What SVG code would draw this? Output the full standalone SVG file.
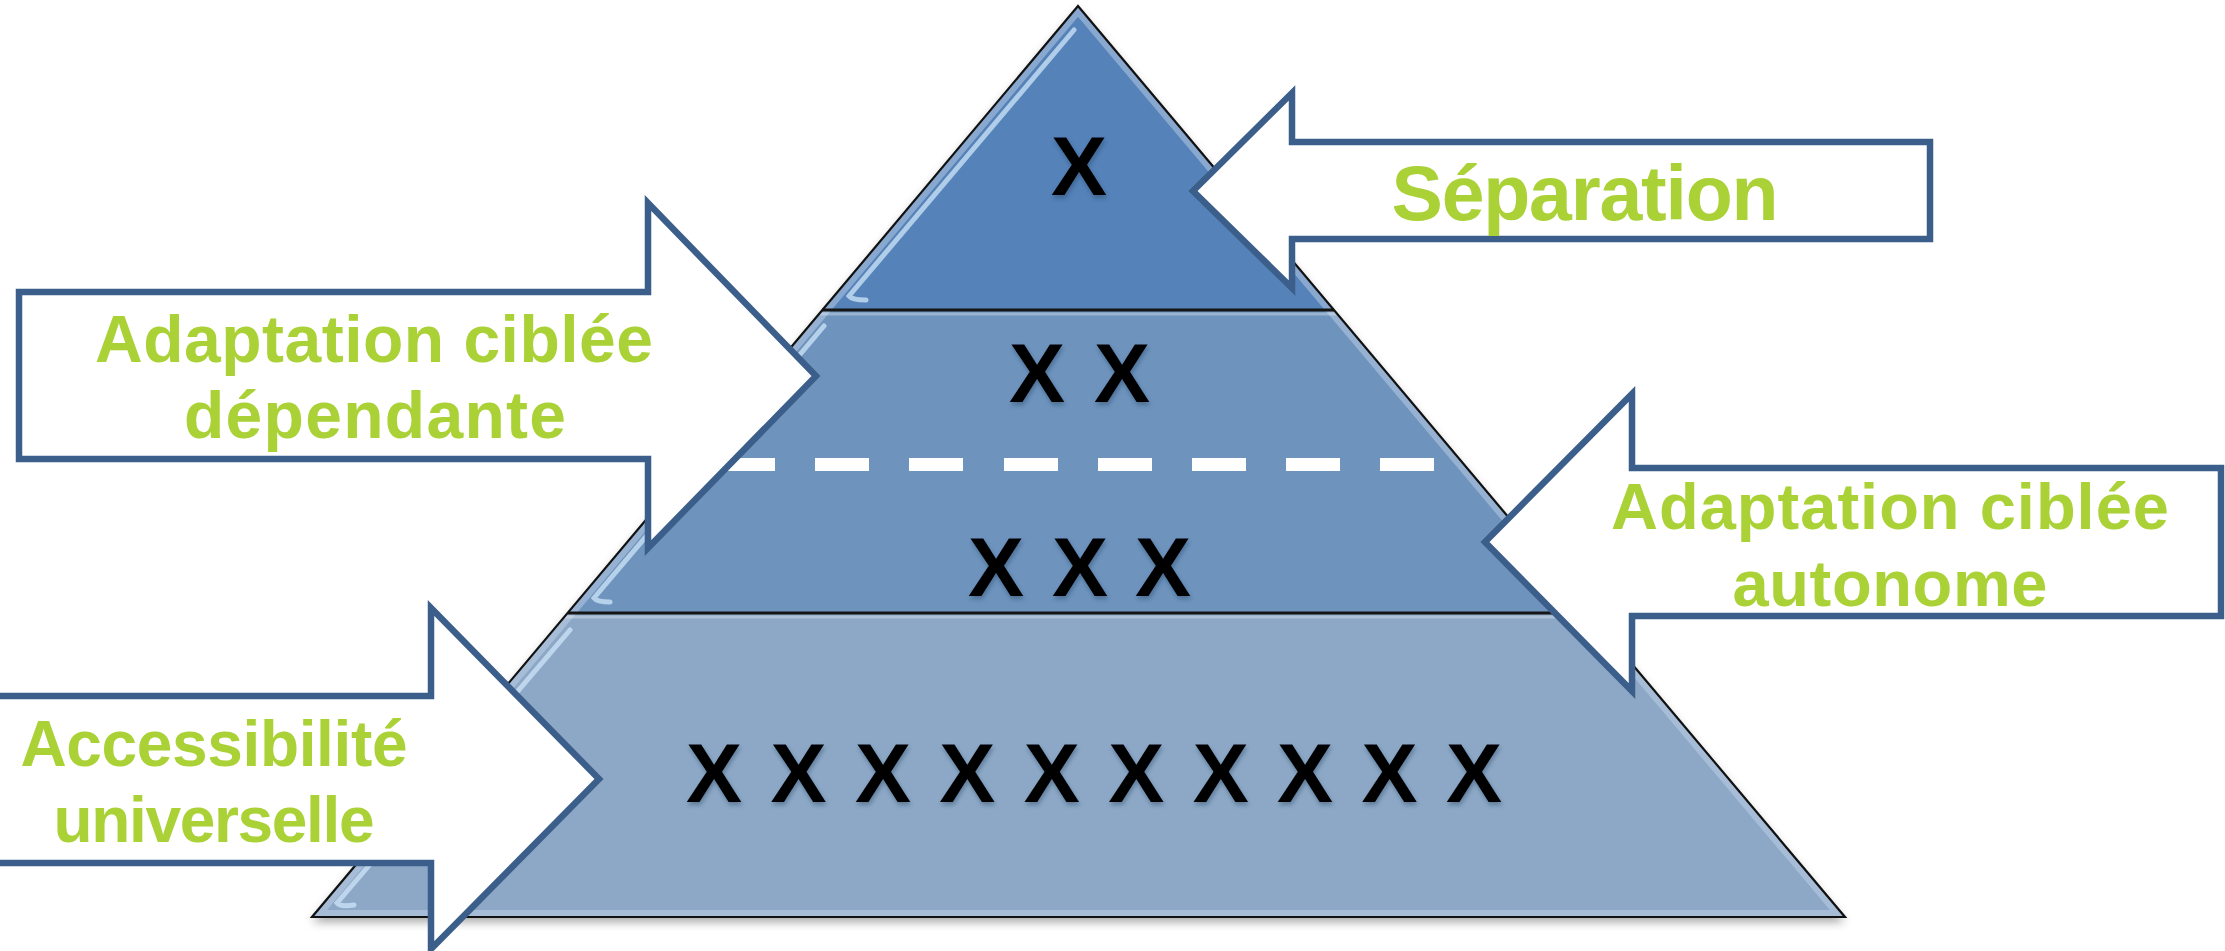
<svg xmlns="http://www.w3.org/2000/svg" width="2225" height="951" viewBox="0 0 2225 951">
<style>
.x{font-family:"Liberation Sans",Arial,sans-serif;font-weight:bold;font-size:84px;fill:#000;text-anchor:middle}
.lbl{font-family:"Liberation Sans",Arial,sans-serif;font-weight:bold;fill:#AAD136;text-anchor:middle}
.arrow{fill:#fff;stroke:#3B5F8A;stroke-width:6.5;stroke-linejoin:miter}
.tierline{stroke:#151515;stroke-width:3}
.tierhi{stroke:#fff;stroke-opacity:.3;stroke-width:3}
.streak{fill:none;stroke:#CFE6FA;stroke-width:5;stroke-opacity:.75;stroke-linecap:round}
.dash{fill:#fff}
</style>
<defs>
<clipPath id="tri"><polygon points="1078,6 1845,917 312,917"/></clipPath>
<filter id="pshadow" x="-5%" y="-5%" width="110%" height="115%"><feDropShadow dx="0" dy="5" stdDeviation="5" flood-color="#000" flood-opacity=".35"/></filter>
<filter id="xshadow" x="-20%" y="-20%" width="140%" height="150%"><feDropShadow dx="1" dy="3" stdDeviation="2" flood-color="#1E3554" flood-opacity=".4"/></filter>
</defs>

<g id="pyramid">
  <g filter="url(#pshadow)">
    <polygon points="1078,6 1845,917 312,917" fill="#8DA8C6"/>
  </g>
  <g id="tier-top"><polygon points="1078,6 1334,310 822,310" fill="#5582B8"/></g>
  <g id="tier-middle"><polygon points="822,310 1334,310 1589,613 568,613" fill="#6E93BD"/></g>
  <g id="tier-bottom"><polygon points="568,613 1589,613 1845,917 312,917" fill="#8DA8C6"/></g>
  <g clip-path="url(#tri)">
    <polygon points="1078,6 1845,917 312,917" fill="none" stroke="#C8D8EA" stroke-opacity=".45" stroke-width="14"/>
  </g>
  <path class="streak" d="M1074,30 L849,296 Q852,300 866,300"/>
  <path class="streak" d="M824,326 L594,598 Q597,602 610,602"/>
  <path class="streak" d="M570,630 L337,903 Q340,907 354,905"/>
  <line class="tierhi" x1="820" y1="314" x2="1337" y2="314"/>
  <line class="tierline" x1="822" y1="310" x2="1334" y2="310"/>
  <line class="tierhi" x1="565" y1="617" x2="1592" y2="617"/>
  <line class="tierline" x1="568" y1="613" x2="1589" y2="613"/>
  <polygon points="1078,6 1845,917 312,917" fill="none" stroke="#111" stroke-width="2.2" stroke-linejoin="miter"/>
  <g id="dashes">
    <rect class="dash" x="721" y="458" width="54" height="13"/>
    <rect class="dash" x="815" y="458" width="54" height="13"/>
    <rect class="dash" x="909" y="458" width="54" height="13"/>
    <rect class="dash" x="1004" y="458" width="54" height="13"/>
    <rect class="dash" x="1098" y="458" width="54" height="13"/>
    <rect class="dash" x="1192" y="458" width="54" height="13"/>
    <rect class="dash" x="1286" y="458" width="54" height="13"/>
    <rect class="dash" x="1380" y="458" width="54" height="13"/>
  </g>
  <g filter="url(#xshadow)">
    <text class="x" x="1079" y="195">X</text>
    <text class="x" x="1037 1122" y="402">XX</text>
    <text class="x" x="996 1080 1163" y="596">XXX</text>
    <text class="x" x="714 798.4 882.9 967.3 1051.8 1136.2 1220.7 1305.1 1389.6 1474" y="802">XXXXXXXXXX</text>
  </g>
</g>

<g id="connectors">
  <g id="arrow-separation">
    <polygon class="arrow" points="1193,191 1292,93 1292,142 1930,142 1930,239 1292,239 1292,288"/>
    <text class="lbl" x="1585" y="220" font-size="77" textLength="387">Séparation</text>
  </g>
  <g id="arrow-dependante">
    <polygon class="arrow" points="19,292 648,292 648,203 816,376 648,548 648,459 19,459"/>
    <text class="lbl" x="374" y="362" font-size="66" textLength="558">Adaptation ciblée</text>
    <text class="lbl" x="375" y="438" font-size="66" textLength="382">dépendante</text>
  </g>
  <g id="arrow-autonome">
    <polygon class="arrow" points="1485,542 1632,394 1632,468 2221,468 2221,616 1632,616 1632,691"/>
    <text class="lbl" x="1890" y="529" font-size="65" textLength="558">Adaptation ciblée</text>
    <text class="lbl" x="1890" y="606" font-size="65" textLength="315">autonome</text>
  </g>
  <g id="arrow-accessibilite">
    <polygon class="arrow" points="-10,696 431,696 431,608 599,779 431,949 431,863 -10,863"/>
    <text class="lbl" x="214" y="766" font-size="64" textLength="387">Accessibilité</text>
    <text class="lbl" x="214" y="842" font-size="64" textLength="321">universelle</text>
  </g>
</g>
</svg>
